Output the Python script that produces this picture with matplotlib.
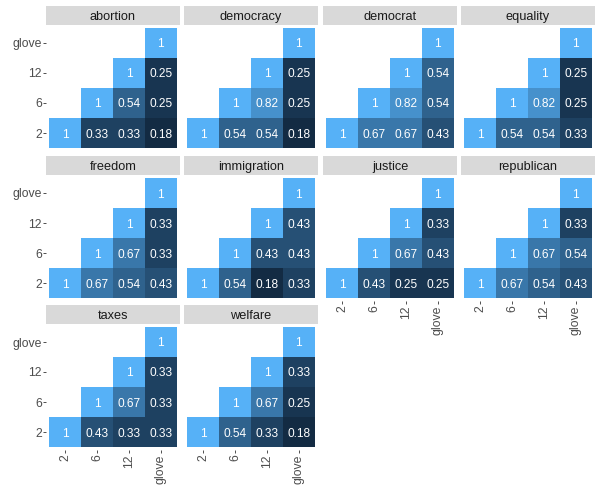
import matplotlib
matplotlib.use("Agg")
import matplotlib.pyplot as plt
from matplotlib.patches import Rectangle
import numpy as np

plt.rcParams["font.family"] = ["Liberation Sans", "DejaVu Sans"]

# ---------------------------------------------------------------------------
# data: one triangle per term, rows go 2, 6, 12, glove (bottom to top),
# each row starts at its own diagonal cell
# ---------------------------------------------------------------------------
levels = ["2", "6", "12", "glove"]
terms = ["abortion", "democracy", "democrat", "equality", "freedom",
         "immigration", "justice", "republican", "taxes", "welfare"]

abortion = [[1, 0.33, 0.33, 0.18], [1, 0.54, 0.25], [1, 0.25], [1]]
democracy = [[1, 0.54, 0.54, 0.18], [1, 0.82, 0.25], [1, 0.25], [1]]
democrat = [[1, 0.67, 0.67, 0.43], [1, 0.82, 0.54], [1, 0.54], [1]]
equality = [[1, 0.54, 0.54, 0.33], [1, 0.82, 0.25], [1, 0.25], [1]]
freedom = [[1, 0.67, 0.54, 0.43], [1, 0.67, 0.33], [1, 0.33], [1]]
immigration = [[1, 0.54, 0.18, 0.33], [1, 0.43, 0.43], [1, 0.43], [1]]
justice = [[1, 0.43, 0.25, 0.25], [1, 0.67, 0.43], [1, 0.33], [1]]
republican = [[1, 0.67, 0.54, 0.43], [1, 0.67, 0.54], [1, 0.33], [1]]
taxes = [[1, 0.43, 0.33, 0.33], [1, 0.67, 0.33], [1, 0.33], [1]]
welfare = [[1, 0.54, 0.33, 0.18], [1, 0.67, 0.25], [1, 0.33], [1]]

values = [abortion, democracy, democrat, equality, freedom,
          immigration, justice, republican, taxes, welfare]


# ---------------------------------------------------------------------------
# ggplot-like continuous fill: #132B43 -> #56B1F7, interpolated in CIELAB
# ---------------------------------------------------------------------------
def hex_to_lab(h):
    rgb = np.array([int(h[i:i + 2], 16) / 255 for i in (1, 3, 5)])
    lin = np.where(rgb <= 0.04045, rgb / 12.92, ((rgb + 0.055) / 1.055) ** 2.4)
    m = np.array([[0.4124, 0.3576, 0.1805],
                  [0.2126, 0.7152, 0.0722],
                  [0.0193, 0.1192, 0.9505]])
    xyz = m @ lin / np.array([0.95047, 1.0, 1.08883])
    f = np.where(xyz > 0.008856, np.cbrt(xyz), 7.787 * xyz + 16 / 116)
    return np.array([116 * f[1] - 16, 500 * (f[0] - f[1]), 200 * (f[1] - f[2])])


def lab_to_rgb(lab):
    fy = (lab[0] + 16) / 116
    fx = fy + lab[1] / 500
    fz = fy - lab[2] / 200
    f = np.array([fx, fy, fz])
    xyz = np.where(f ** 3 > 0.008856, f ** 3, (f - 16 / 116) / 7.787)
    xyz = xyz * np.array([0.95047, 1.0, 1.08883])
    m = np.array([[3.2406, -1.5372, -0.4986],
                  [-0.9689, 1.8758, 0.0415],
                  [0.0557, -0.2040, 1.0570]])
    lin = m @ xyz
    rgb = np.where(lin <= 0.0031308, 12.92 * lin, 1.055 * np.abs(lin) ** (1 / 2.4) - 0.055)
    return np.clip(rgb, 0, 1)


low, high = hex_to_lab("#132B43"), hex_to_lab("#56B1F7")
all_vals = [v for t in values for row in t for v in row]
vmin, vmax = min(all_vals), max(all_vals)


def fill(v):
    t = (v - vmin) / (vmax - vmin)
    return lab_to_rgb(low + t * (high - low))


# ---------------------------------------------------------------------------
# layout (pixels)
# ---------------------------------------------------------------------------
W, H = 599, 486
fig = plt.figure(figsize=(W / 100, H / 100), dpi=100)
fig.patch.set_facecolor("white")

col_x = [46, 184, 323, 461]
row_top = [6, 156, 305]
panel_w, panel_h, strip_h = 134, 126, 19

for k, (term, tri) in enumerate(zip(terms, values)):
    r, c = divmod(k, 4)
    x0 = col_x[c]
    strip_top = row_top[r]
    panel_top = strip_top + strip_h

    ax = fig.add_axes([x0 / W, 1 - (panel_top + panel_h) / H, panel_w / W, panel_h / H])
    for j, row in enumerate(tri):
        for i, v in enumerate(row):
            xi = j + i + 1
            yj = j + 1
            ax.add_patch(Rectangle((xi - 0.5, yj - 0.5), 1, 1,
                                   facecolor=fill(v), edgecolor="none"))
            ax.text(xi, yj, f"{v:g}", color="white", fontsize=8.6,
                    ha="center", va="center_baseline")
    ax.set_xlim(0.4, 4.6)
    ax.set_ylim(0.4, 4.6)
    for s in ax.spines.values():
        s.set_visible(False)

    ax.set_xticks(range(1, 5))
    ax.set_yticks(range(1, 5))
    show_y = c == 0
    show_x = k + 4 >= len(terms)
    ax.tick_params(axis="y", length=2 if show_y else 0, width=0.6, color="#333333",
                   pad=1, labelsize=8.8, labelcolor="#4D4D4D", labelleft=show_y)
    ax.tick_params(axis="x", length=2 if show_x else 0, width=0.6, color="#333333",
                   pad=1, labelsize=8.8, labelcolor="#4D4D4D", labelbottom=show_x)
    ax.set_yticklabels(levels)
    ax.set_xticklabels(levels, rotation=90, va="top", ha="center")

    # facet strip
    sax = fig.add_axes([x0 / W, 1 - panel_top / H, panel_w / W, strip_h / H])
    sax.set_facecolor("#D9D9D9")
    sax.set_xticks([])
    sax.set_yticks([])
    for s in sax.spines.values():
        s.set_visible(False)
    sax.text(0.5, 0.27, term, transform=sax.transAxes, ha="center", va="baseline",
             fontsize=9.2, color="#1A1A1A")

fig.savefig("out.png", dpi=100)
